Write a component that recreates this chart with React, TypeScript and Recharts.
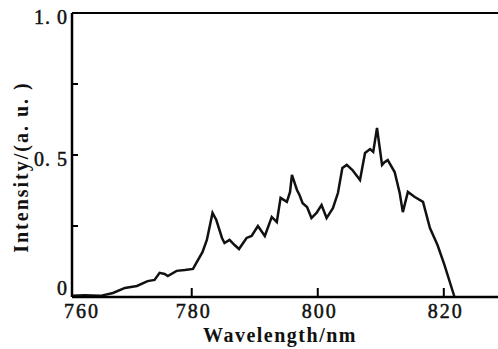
import { LineChart, Line, XAxis, YAxis, ReferenceLine } from "recharts";

// spectrum
const wavelength = [
  761, 763, 765.5, 767.5, 769.4, 771.3, 773.0, 774.1, 774.9, 775.7,
  776.2, 777.6, 778.9, 780.2, 780.8, 781.7, 782.4, 783.3, 783.9, 784.8,
  785.2, 786.0, 786.8, 787.5, 788.7, 789.5, 790.5, 791.6, 792.7, 793.5,
  794.1, 795.1, 795.6, 795.9, 796.7, 797.1, 797.6, 798.3, 799.0, 799.8,
  800.6, 801.4, 802.4, 803.2, 803.9, 804.6, 805.5, 806.7, 807.5, 808.3,
  808.8, 809.4, 810.2, 810.6, 811.1, 812.2, 813.0, 813.5, 814.3, 815.4,
  816.7, 817.8, 819.0, 820.1, 821.7,
];
const intensity = [
  0.004, 0.006, 0.004, 0.014, 0.032, 0.039, 0.056, 0.06, 0.085, 0.081,
  0.074, 0.092, 0.095, 0.099, 0.123, 0.158, 0.201, 0.296, 0.271, 0.208,
  0.19, 0.201, 0.183, 0.169, 0.208, 0.215, 0.25, 0.215, 0.282, 0.264,
  0.349, 0.335, 0.37, 0.43, 0.377, 0.359, 0.33, 0.317, 0.278, 0.296,
  0.324, 0.278, 0.313, 0.366, 0.454, 0.465, 0.447, 0.412, 0.507, 0.521,
  0.511, 0.595, 0.465, 0.475, 0.482, 0.44, 0.366, 0.299, 0.37, 0.352,
  0.335, 0.243, 0.183, 0.113, 0,
];

const xMin = 761;
const xMax = 828.6;
const xTickLabels = [760, 780, 800, 820];
const yTicks = [0, 0.25, 0.5, 0.75, 1];
const yTickLabels: Record<number, string> = { 0: "0", 0.5: "0. 5", 1: "1. 0" };

const data = wavelength.map((w, i) => ({ w, v: intensity[i] }));

const font = '"Liberation Serif", "Times New Roman", serif';

const XTick = (props: any) => {
  const { x, y, index } = props;
  const dx = index === 0 ? 10 : 2;
  return (
    <g>
      <line x1={x} y1={y} x2={x} y2={y - 9} stroke="#000" strokeWidth={2} />
      <text
        x={x + dx}
        y={y + 21}
        textAnchor="middle"
        fontFamily={font}
        fontSize={20}
        letterSpacing={2}
        fill="#111"
        stroke="#111"
        strokeWidth={0.5}
      >
        {xTickLabels[index]}
      </text>
    </g>
  );
};

const YTick = (props: any) => {
  const { x, y, payload } = props;
  const label = yTickLabels[payload.value];
  const ty = payload.value === 0 ? y - 2 : y + 11;
  return (
    <g>
      <line x1={x} y1={y} x2={x + 6} y2={y} stroke="#000" strokeWidth={2} />
      {label && (
        <text
          x={x - 4}
          y={ty}
          textAnchor="end"
          fontFamily={font}
          fontSize={20}
          letterSpacing={1}
          fill="#111"
          stroke="#111"
          strokeWidth={0.5}
        >
          {label}
        </text>
      )}
    </g>
  );
};

export default function App() {
  return (
    <div style={{ position: "absolute", left: 0, top: 0, background: "#fff" }}>
      <LineChart width={498} height={349} data={data} margin={{ top: 13, right: 0, left: 0, bottom: 0 }}>
        <XAxis
          dataKey="w"
          type="number"
          domain={[xMin, xMax]}
          ticks={xTickLabels.map((v) => Math.max(v, xMin))}
          interval={0}
          height={52}
          tickSize={0}
          tickMargin={0}
          tickLine={false}
          tick={XTick}
          axisLine={{ stroke: "#000", strokeWidth: 2.5 }}
          label={() => (
            <text x={280} y={342} textAnchor="middle" fontFamily={font} fontWeight="bold" fontSize={20} letterSpacing={1.5} fill="#111">
              Wavelength/nm
            </text>
          )}
        />
        <YAxis
          type="number"
          domain={[0, 1]}
          ticks={yTicks}
          interval={0}
          width={72}
          tickSize={0}
          tickMargin={0}
          tickLine={false}
          tick={YTick}
          axisLine={{ stroke: "#000", strokeWidth: 2.5 }}
          label={() => (
            <text
              x={28}
              y={167}
              transform="rotate(-90 28 167)"
              textAnchor="middle"
              fontFamily={font}
              fontWeight="bold"
              fontSize={20}
              letterSpacing={2}
              fill="#111"
            >
              Intensity/(a. u. )
            </text>
          )}
        />
        <ReferenceLine y={1} stroke="#000" strokeWidth={2} />
        <Line
          type="linear"
          dataKey="v"
          stroke="#111"
          strokeWidth={2.5}
          dot={false}
          activeDot={false}
          isAnimationActive={false}
        />
      </LineChart>
    </div>
  );
}
